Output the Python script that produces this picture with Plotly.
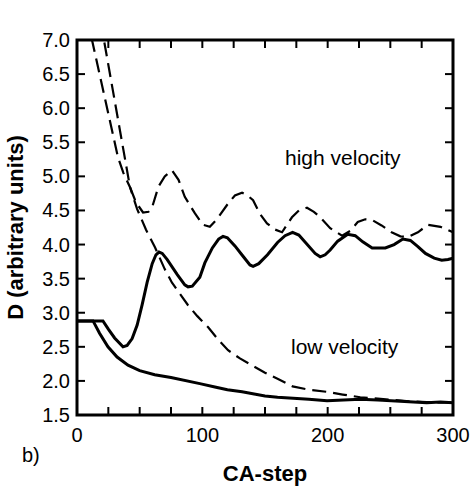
import plotly.graph_objects as go

# High velocity, dashed
hv_dash_x = [16, 21.5, 30, 38, 42.3, 47, 52.7, 57, 60, 65, 70, 75.8, 81, 86, 94, 100.5, 106, 112, 119.7, 126, 131.7, 136, 140.5,
             146, 151.6, 158, 163.6, 171.5, 177, 183.5, 189, 194, 202, 211.5, 218, 224, 230, 235.5, 243, 251, 258, 264, 272,
             280, 290, 300]
hv_dash_y = [7.57, 7.0, 6.12, 5.28, 4.84, 4.62, 4.47, 4.48, 4.55, 4.85, 5.0, 5.09, 4.95, 4.70, 4.46, 4.29, 4.26, 4.38, 4.58, 4.72,
             4.76, 4.72, 4.65, 4.45, 4.31, 4.22, 4.18, 4.40, 4.50, 4.54, 4.48, 4.40, 4.24, 4.13, 4.20, 4.33, 4.37, 4.36, 4.28,
             4.18, 4.12, 4.11, 4.18, 4.29, 4.26, 4.18]

# Low velocity, dashed
lv_dash_x = [8, 12, 20, 27, 32.7, 37, 42.3, 48, 55, 62.2, 70, 75.8, 83.8, 88.6, 96, 104.5, 112, 120.5, 130, 140, 150, 160, 172,
             185, 199.5, 212, 226, 240, 252, 265, 279, 290, 300]
lv_dash_y = [7.33, 7.0, 6.33, 5.76, 5.28, 5.05, 4.84, 4.52, 4.22, 3.96, 3.64, 3.44, 3.23, 3.11, 2.95, 2.79, 2.62, 2.45, 2.33,
             2.22, 2.12, 2.03, 1.92, 1.87, 1.84, 1.80, 1.76, 1.74, 1.72, 1.70, 1.69, 1.69, 1.68]

# Low velocity, solid
lv_solid_x = [0, 12.8, 18, 24.7, 32, 40.7, 50, 62, 75, 86, 98, 110, 120, 131.7, 140, 150, 160, 172, 185, 199.5, 212, 226, 240,
              252, 265, 279, 290, 300]
lv_solid_y = [2.88, 2.88, 2.70, 2.50, 2.35, 2.23, 2.15, 2.09, 2.05, 2.01, 1.96, 1.91, 1.87, 1.84, 1.81, 1.78, 1.76, 1.75, 1.73,
              1.71, 1.72, 1.73, 1.72, 1.71, 1.70, 1.68, 1.69, 1.68]

# High velocity, solid
hv_solid_x = [0, 20.7, 25, 30, 36.7, 40, 44, 48, 52, 56, 60, 63, 65.4, 68, 72, 75.8, 80, 86, 88.6, 92, 98, 102, 108, 113, 116.5,
              120, 126, 132, 138, 140.5, 145, 152, 160, 166, 172, 177, 184, 190, 194, 198, 202, 208, 216, 222, 228, 235.5,
              246, 253, 260, 266, 272, 278, 285, 291, 296, 300]
hv_solid_y = [2.88, 2.88, 2.76, 2.63, 2.50, 2.52, 2.62, 2.82, 3.12, 3.45, 3.72, 3.85, 3.89, 3.87, 3.78, 3.67, 3.56, 3.41, 3.38,
              3.39, 3.52, 3.73, 3.95, 4.08, 4.12, 4.10, 3.98, 3.84, 3.70, 3.68, 3.72, 3.85, 4.03, 4.13, 4.18, 4.14, 4.00, 3.87,
              3.82, 3.85, 3.92, 4.05, 4.15, 4.13, 4.04, 3.95, 3.95, 4.00, 4.08, 4.06, 3.97, 3.87, 3.80, 3.77, 3.78, 3.80]

# Tick marks drawn inside the frame
x_tick_marks = [25, 50, 75, 100, 125, 150, 175, 200, 225, 250, 275]
y_tick_marks = [2.0, 2.5, 3.0, 3.5, 4.0, 4.5, 5.0, 5.5, 6.0, 6.5]

FONT = "Liberation Sans"

fig = go.Figure()
dash_style = dict(color="black", width=2.2, dash="14px,7px")
solid_style = dict(color="black", width=3)

fig.add_trace(go.Scatter(x=lv_solid_x, y=lv_solid_y, mode="lines", line=solid_style, name="low velocity (solid)"))
fig.add_trace(go.Scatter(x=hv_solid_x, y=hv_solid_y, mode="lines", line=solid_style, name="high velocity (solid)"))
fig.add_trace(go.Scatter(x=lv_dash_x, y=lv_dash_y, mode="lines", line=dash_style, name="low velocity (dashed)"))
fig.add_trace(go.Scatter(x=hv_dash_x, y=hv_dash_y, mode="lines", line=dash_style, name="high velocity (dashed)"))

fig.add_annotation(x=212, y=5.28, text="high velocity", showarrow=False,
                   font=dict(family=FONT, size=21, color="black"))
fig.add_annotation(x=213.6, y=2.51, text="low velocity", showarrow=False,
                   font=dict(family=FONT, size=21, color="black"))
fig.add_annotation(x=-0.122, y=-0.107, xref="paper", yref="paper", text="b)", showarrow=False,
                   xanchor="center", yanchor="middle",
                   font=dict(family=FONT, size=20, color="black"))

# Frame
fig.add_shape(type="rect", xref="paper", yref="paper", x0=0, x1=1, y0=0, y1=1,
              line=dict(color="black", width=3), layer="above")
# Inside ticks (bottom/top and left/right)
TLX = 8 / 375.0
TLY = 8 / 376.0
for xv in x_tick_marks:
    fig.add_shape(type="line", xref="x", yref="y domain", x0=xv, x1=xv, y0=0, y1=TLX,
                  line=dict(color="black", width=2), layer="above")
    fig.add_shape(type="line", xref="x", yref="y domain", x0=xv, x1=xv, y0=1 - TLX, y1=1,
                  line=dict(color="black", width=2), layer="above")
for yv in y_tick_marks:
    fig.add_shape(type="line", xref="x domain", yref="y", x0=0, x1=TLY, y0=yv, y1=yv,
                  line=dict(color="black", width=2), layer="above")
    fig.add_shape(type="line", xref="x domain", yref="y", x0=1 - TLY, x1=1, y0=yv, y1=yv,
                  line=dict(color="black", width=2), layer="above")

fig.update_layout(
    width=474, height=487,
    margin=dict(l=77, r=21, t=40, b=72),
    paper_bgcolor="white", plot_bgcolor="white",
    showlegend=False,
    font=dict(family=FONT, size=20, color="black"),
)
fig.update_xaxes(
    range=[0, 300], tickmode="linear", tick0=0, dtick=100,
    ticks="", showline=False,
    showgrid=False, zeroline=False, automargin=False,
    tickfont=dict(family=FONT, size=20, color="black"),
    ticklabelstandoff=6,
    title=dict(text="<b>CA-step</b>", font=dict(family=FONT, size=22, color="black"), standoff=20),
)
fig.update_yaxes(
    range=[1.5, 7.0], tickmode="linear", tick0=1.5, dtick=0.5, tickformat=".1f",
    ticks="", showline=False,
    showgrid=False, zeroline=False, automargin=False,
    tickfont=dict(family=FONT, size=20, color="black"),
    ticklabelstandoff=6,
    title=dict(text="<b>D (arbitrary units)</b>", font=dict(family=FONT, size=22, color="black"), standoff=12),
)

fig.write_html("out.html", post_script="document.body.style.margin='0';", config={"displayModeBar": False})
